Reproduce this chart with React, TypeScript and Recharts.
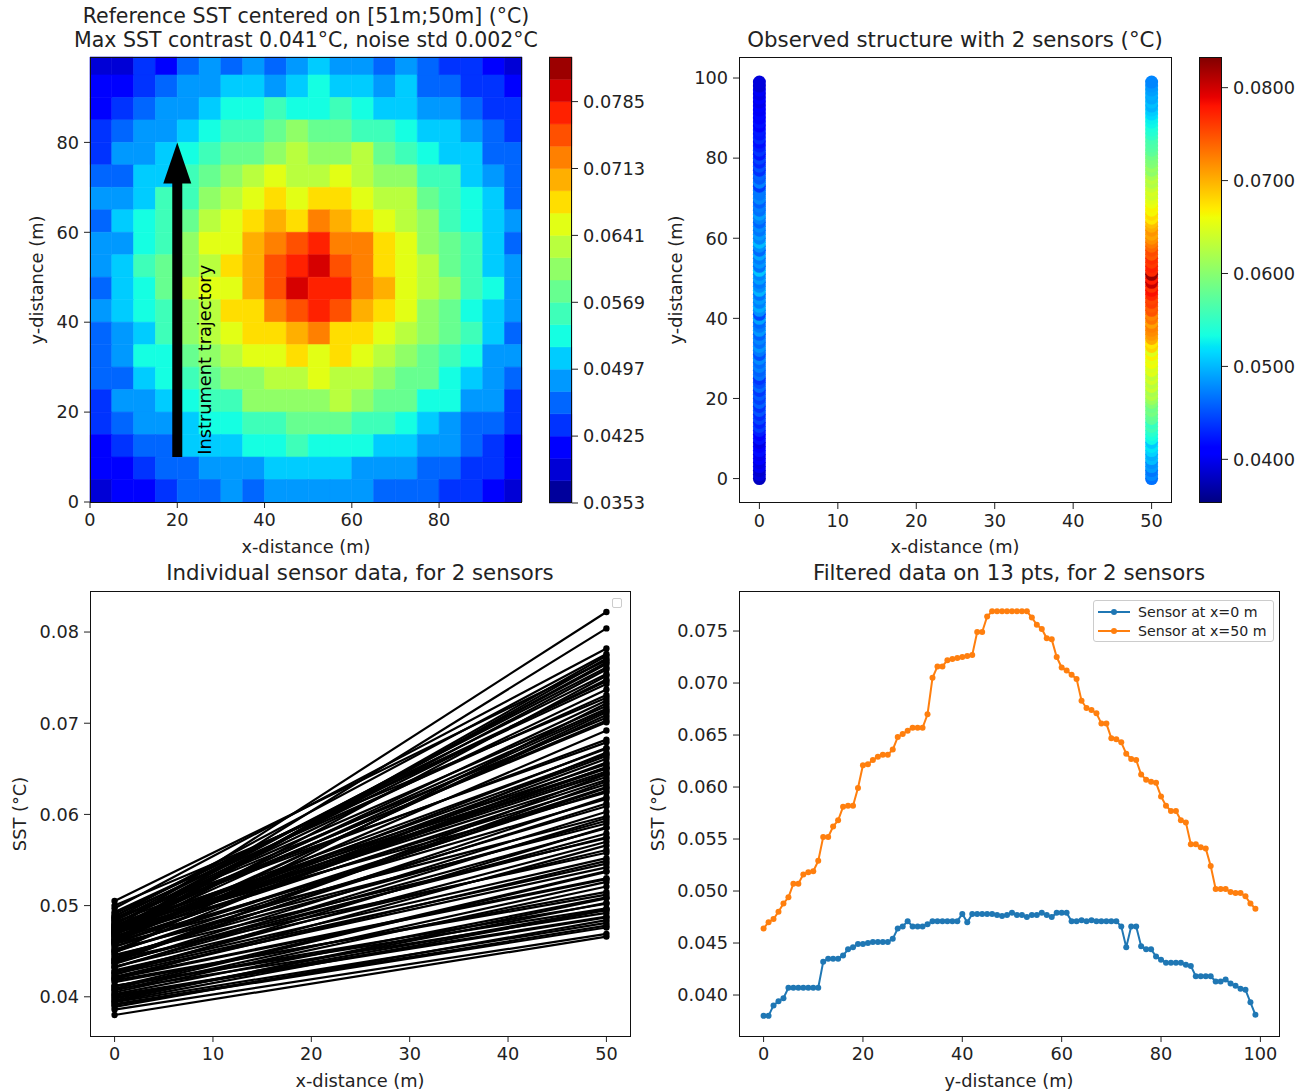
import React from "react";
import {
  ScatterChart,
  Scatter,
  LineChart,
  Line,
  XAxis,
  YAxis,
  ReferenceArea,
  ReferenceLine,
  ReferenceDot,
  Legend,
} from "recharts";

const FONT = "DejaVu Sans, Verdana, sans-serif";

// sample positions along each sensor track (m)
const sensorY = [
  0, 1, 2, 3, 4, 5, 6, 7, 8, 9, 10, 11, 12, 13, 14, 15, 16, 17, 18, 19,
  20, 21, 22, 23, 24, 25, 26, 27, 28, 29, 30, 31, 32, 33, 34, 35, 36, 37, 38, 39,
  40, 41, 42, 43, 44, 45, 46, 47, 48, 49, 50, 51, 52, 53, 54, 55, 56, 57, 58, 59,
  60, 61, 62, 63, 64, 65, 66, 67, 68, 69, 70, 71, 72, 73, 74, 75, 76, 77, 78, 79,
  80, 81, 82, 83, 84, 85, 86, 87, 88, 89, 90, 91, 92, 93, 94, 95, 96, 97, 98, 99,
];

// raw SST seen by the sensor at x=0 m and x=50 m (°C)
const rawX0 = [
  0.038, 0.0392, 0.0386, 0.0401, 0.0394, 0.0412, 0.0399, 0.0418, 0.0405, 0.0396,
  0.0421, 0.0409, 0.0427, 0.0441, 0.0429, 0.0446, 0.0433, 0.0452, 0.0437, 0.0458,
  0.0443, 0.0455, 0.044, 0.0462, 0.0449, 0.0438, 0.0466, 0.0459, 0.0473, 0.0463,
  0.0478, 0.0451, 0.047, 0.0482, 0.0465, 0.0476, 0.0459, 0.0484, 0.0471, 0.0462,
  0.0489, 0.0448, 0.048, 0.0493, 0.0474, 0.0486, 0.0467, 0.0497, 0.0479, 0.047,
  0.0488, 0.0475, 0.0505, 0.0468, 0.0483, 0.0472, 0.0491, 0.0463, 0.048, 0.05,
  0.0476, 0.0485, 0.0469, 0.0478, 0.0461, 0.0474, 0.0487, 0.0466, 0.0472, 0.0458,
  0.0477, 0.0469, 0.047, 0.0441, 0.0473, 0.0455, 0.046, 0.0436, 0.045, 0.0432,
  0.0445, 0.0424, 0.0438, 0.0427, 0.0419, 0.0433, 0.0422, 0.0425, 0.0411, 0.042,
  0.0407, 0.0416, 0.0403, 0.0412, 0.0398, 0.0408, 0.0395, 0.0402, 0.0389, 0.0391,
];
const rawX50 = [
  0.0466, 0.0478, 0.0469, 0.0487, 0.0481, 0.0502, 0.0496, 0.0512, 0.0521, 0.0508,
  0.053, 0.0537, 0.0546, 0.0558, 0.0552, 0.0574, 0.0579, 0.059, 0.0585, 0.0598,
  0.0612, 0.0626, 0.0619, 0.0638, 0.0629, 0.0644, 0.0633, 0.0652, 0.0647, 0.0661,
  0.0655, 0.0668, 0.065, 0.0682, 0.0673, 0.0703, 0.0712, 0.0719, 0.0725, 0.0709,
  0.0731, 0.0722, 0.0748, 0.0743, 0.0759, 0.0754, 0.0771, 0.0782, 0.0765, 0.0804,
  0.0776, 0.0822, 0.0769, 0.0774, 0.0761, 0.0767, 0.0746, 0.0752, 0.0737, 0.0728,
  0.0716, 0.0706, 0.0714, 0.0701, 0.0692, 0.0672, 0.0679, 0.0664, 0.0666, 0.0657,
  0.0651, 0.0641, 0.0645, 0.0636, 0.0624, 0.063, 0.0617, 0.0603, 0.0609, 0.0596,
  0.0593, 0.0586, 0.0575, 0.057, 0.0566, 0.0561, 0.0549, 0.0542, 0.0538, 0.0529,
  0.0526, 0.0515, 0.0509, 0.0497, 0.0503, 0.0492, 0.0495, 0.0488, 0.0484, 0.0476,
];

// filtered SST (13 pts), same sensors (°C)
const filtX0 = [
  0.038, 0.038, 0.039, 0.0394, 0.0397, 0.0407, 0.0407, 0.0407, 0.0407, 0.0407,
  0.0407, 0.0407, 0.0432, 0.0435, 0.0435, 0.0435, 0.0438, 0.0444, 0.0446, 0.0449,
  0.0449, 0.045, 0.0451, 0.0451, 0.0451, 0.0451, 0.0454, 0.0464, 0.0466, 0.0471,
  0.0466, 0.0466, 0.0466, 0.0468, 0.0471, 0.0471, 0.0471, 0.0471, 0.0471, 0.0471,
  0.0478, 0.047, 0.0478, 0.0478, 0.0478, 0.0478, 0.0478, 0.0477, 0.0476, 0.0477,
  0.0479, 0.0477, 0.0477, 0.0475, 0.0477, 0.0477, 0.0479, 0.0477, 0.0475, 0.0479,
  0.0479, 0.0479, 0.0471, 0.0471, 0.0472, 0.0471, 0.0472, 0.0471, 0.0471, 0.0471,
  0.0471, 0.0471, 0.0466, 0.0446, 0.0466, 0.0466, 0.0447, 0.0444, 0.0444, 0.0437,
  0.0434, 0.0431, 0.0431, 0.0431, 0.0431, 0.0429, 0.0428, 0.0418, 0.0418, 0.0418,
  0.0418, 0.0413, 0.0413, 0.0415, 0.0411, 0.0409, 0.0406, 0.0405, 0.0393, 0.0381,
];
const filtX50 = [
  0.0464, 0.047, 0.0473, 0.048, 0.0488, 0.0494, 0.0507, 0.0507, 0.0516, 0.0518,
  0.0519, 0.0529, 0.0552, 0.0552, 0.0562, 0.0568, 0.0581, 0.0582, 0.0582, 0.0599,
  0.0621, 0.0622, 0.0626, 0.0629, 0.0631, 0.0631, 0.0636, 0.0648, 0.0651, 0.0654,
  0.0657, 0.0657, 0.0657, 0.067, 0.0705, 0.0716, 0.0716, 0.0722, 0.0723, 0.0724,
  0.0725, 0.0726, 0.0727, 0.0749, 0.0749, 0.0764, 0.0769, 0.0769, 0.0769, 0.0769,
  0.0769, 0.0769, 0.0769, 0.0769, 0.0763, 0.0756, 0.0752, 0.0743, 0.0742, 0.0725,
  0.0715, 0.0712, 0.0708, 0.0704, 0.0683, 0.0676, 0.0674, 0.0671, 0.0661, 0.0661,
  0.0647, 0.0646, 0.0643, 0.0632, 0.0627, 0.0626, 0.0612, 0.0607, 0.0605, 0.0604,
  0.0591, 0.0582, 0.0577, 0.0577, 0.0568, 0.0566, 0.0545, 0.0545, 0.0542, 0.0541,
  0.0524, 0.0502, 0.0502, 0.0502, 0.0499, 0.0498, 0.0498, 0.0495, 0.0488, 0.0483,
];

// contour levels of the reference field (°C)
const contourLevels = [
  0.0353, 0.0377, 0.0401, 0.0425, 0.0449, 0.0473, 0.0497, 0.0521, 0.0545, 0.0569,
  0.0593, 0.0617, 0.0641, 0.0665, 0.0689, 0.0713, 0.0737, 0.0761, 0.0785, 0.0809,
  0.0833,
];

// reference field on a 5 m grid: index of the contour band, top row (y 95-99) first
const gridEdges = [0, 5, 10, 15, 20, 25, 30, 35, 40, 45, 50, 55, 60, 65, 70, 75, 80, 85, 90, 95, 99];
const sstLevel = [
  [1, 1, 3, 2, 4, 5, 4, 5, 4, 5, 6, 5, 5, 4, 5, 4, 3, 3, 2, 1],
  [2, 2, 3, 4, 5, 5, 6, 6, 5, 6, 7, 6, 6, 5, 6, 4, 4, 3, 3, 2],
  [2, 3, 4, 5, 5, 6, 7, 7, 8, 7, 7, 8, 7, 6, 6, 5, 5, 4, 3, 3],
  [3, 4, 5, 5, 6, 7, 8, 8, 9, 10, 9, 9, 8, 8, 7, 6, 6, 5, 4, 3],
  [3, 5, 5, 6, 7, 8, 9, 9, 10, 11, 10, 10, 11, 9, 8, 7, 6, 6, 4, 4],
  [4, 4, 6, 6, 8, 9, 10, 11, 12, 11, 11, 12, 11, 10, 10, 8, 8, 6, 5, 4],
  [5, 5, 6, 8, 8, 10, 11, 12, 13, 12, 13, 13, 12, 11, 11, 9, 8, 7, 6, 4],
  [4, 6, 7, 8, 9, 11, 12, 13, 14, 13, 15, 14, 13, 12, 11, 10, 8, 7, 6, 5],
  [5, 5, 7, 8, 10, 12, 12, 14, 15, 16, 17, 15, 15, 13, 12, 10, 9, 8, 6, 4],
  [5, 6, 8, 9, 10, 11, 13, 14, 16, 17, 18, 16, 15, 13, 12, 11, 9, 8, 6, 5],
  [4, 6, 7, 9, 11, 12, 12, 14, 16, 18, 17, 17, 15, 14, 12, 11, 10, 8, 7, 5],
  [5, 6, 7, 8, 10, 11, 13, 13, 15, 16, 17, 16, 14, 13, 12, 10, 9, 7, 6, 5],
  [4, 5, 6, 8, 10, 11, 12, 13, 13, 14, 15, 13, 13, 12, 11, 10, 9, 8, 6, 4],
  [4, 5, 7, 7, 9, 10, 11, 12, 12, 13, 12, 13, 12, 11, 10, 9, 8, 7, 5, 5],
  [4, 4, 6, 7, 8, 9, 10, 10, 11, 11, 12, 11, 11, 10, 9, 9, 7, 6, 5, 4],
  [3, 5, 5, 6, 7, 8, 8, 10, 10, 10, 10, 11, 10, 9, 9, 7, 7, 5, 5, 3],
  [3, 4, 5, 5, 6, 7, 7, 8, 8, 9, 9, 9, 8, 8, 7, 6, 5, 4, 4, 3],
  [2, 3, 4, 4, 6, 6, 6, 7, 7, 8, 7, 7, 7, 6, 6, 5, 5, 4, 3, 2],
  [2, 2, 3, 4, 4, 5, 5, 5, 6, 6, 6, 6, 5, 5, 5, 4, 4, 3, 3, 2],
  [1, 2, 2, 3, 4, 4, 5, 4, 5, 5, 5, 5, 5, 4, 4, 4, 3, 3, 2, 1],
];

const fieldTicks = [0, 20, 40, 60, 80];
const cbTicksField = [0.0353, 0.0425, 0.0497, 0.0569, 0.0641, 0.0713, 0.0785];
const cbTicksObs = [0.04, 0.05, 0.06, 0.07, 0.08];
const obsXTicks = [0, 10, 20, 30, 40, 50];
const obsYTicks = [0, 20, 40, 60, 80, 100];
const pairYTicks = [0.04, 0.05, 0.06, 0.07, 0.08];
const filtXTicks = [0, 20, 40, 60, 80, 100];
const filtYTicks = [0.04, 0.045, 0.05, 0.055, 0.06, 0.065, 0.07, 0.075];

const vMin = 0.0353;
const vMax = 0.0833;

// matplotlib "jet"
const JET_R = [[0, 0], [0.35, 0], [0.66, 1], [0.89, 1], [1, 0.5]];
const JET_G = [[0, 0], [0.125, 0], [0.375, 1], [0.64, 1], [0.91, 0], [1, 0]];
const JET_B = [[0, 0.5], [0.11, 1], [0.34, 1], [0.65, 0], [1, 0]];
function seg(pts: number[][], t: number) {
  for (let i = 1; i < pts.length; i++) {
    if (t <= pts[i][0]) {
      const [x0, y0] = pts[i - 1];
      const [x1, y1] = pts[i];
      return y0 + ((t - x0) / (x1 - x0)) * (y1 - y0);
    }
  }
  return pts[pts.length - 1][1];
}
function jet(t: number) {
  const u = Math.max(0, Math.min(1, t));
  const c = (p: number[][]) => Math.round(seg(p, u) * 255);
  return `rgb(${c(JET_R)},${c(JET_G)},${c(JET_B)})`;
}
const jetStops = [0, 0.11, 0.125, 0.34, 0.35, 0.375, 0.64, 0.65, 0.66, 0.89, 0.91, 1];
const norm = (v: number) => (v - vMin) / (vMax - vMin);
const bandColor = (k: number) => jet((k + 0.5) / (contourLevels.length - 1));

const TICK_FS = 17.7;
const tick = { fontSize: TICK_FS, fill: "#222", fontFamily: FONT };
const axisCommon = { tickSize: 6, tickMargin: 5, axisLine: false, stroke: "#222", tick, interval: 0 as const };

function Txt({ x, y, size = 17.8, rotate = false, children }: any) {
  return (
    <div
      style={{
        position: "absolute",
        left: x,
        top: y,
        transform: `translate(-50%,-50%)${rotate ? " rotate(-90deg)" : ""}`,
        fontFamily: FONT,
        fontSize: size,
        whiteSpace: "nowrap",
        lineHeight: 1,
        color: "#222",
      }}
    >
      {children}
    </div>
  );
}

function Frame({ left, top, width, height }: any) {
  return (
    <div
      style={{
        position: "absolute",
        left,
        top,
        width,
        height,
        boxSizing: "border-box",
        border: "1px solid #111",
        pointerEvents: "none",
      }}
    />
  );
}

function Box({ left, top, children }: any) {
  return <div style={{ position: "absolute", left, top }}>{children}</div>;
}

function FieldPanel() {
  const cells: any[] = [];
  const centres: any[] = [];
  sstLevel.forEach((row, r) =>
    row.forEach((lvl, c) => {
      const x1 = gridEdges[c];
      const x2 = gridEdges[c + 1];
      const y1 = gridEdges[gridEdges.length - 2 - r];
      const y2 = gridEdges[gridEdges.length - 1 - r];
      const col = bandColor(lvl);
      centres.push({ x: (x1 + x2) / 2, y: (y1 + y2) / 2 });
      cells.push(
        <ReferenceArea
          key={`c${r}-${c}`}
          x1={x1}
          x2={x2}
          y1={y1}
          y2={y2}
          fill={col}
          fillOpacity={1}
          stroke={col}
          strokeWidth={0.6}
        />
      );
    })
  );
  return (
    <ScatterChart width={530} height={562} margin={{ top: 57, right: 8, bottom: 0, left: 0 }}>
      <XAxis type="number" dataKey="x" domain={[0, 99]} ticks={fieldTicks} height={60} allowDataOverflow {...axisCommon} />
      <YAxis type="number" dataKey="y" domain={[0, 99]} ticks={fieldTicks} width={90} allowDataOverflow {...axisCommon} />
      {cells}
      <Scatter data={centres} shape={() => <g />} isAnimationActive={false} />
      <ReferenceLine segment={[{ x: 20, y: 10 }, { x: 20, y: 71 }]} stroke="#000" strokeWidth={10} />
      <ReferenceDot
        x={20}
        y={80}
        r={1}
        shape={(p: any) => (
          <path d={`M${p.cx},${p.cy} L${p.cx - 14},${p.cy + 41} L${p.cx + 14},${p.cy + 41} Z`} fill="#000" />
        )}
      />
      <ReferenceDot
        x={27.8}
        y={10.5}
        r={1}
        shape={(p: any) => (
          <text
            x={p.cx}
            y={p.cy}
            transform={`rotate(-90 ${p.cx} ${p.cy})`}
            fontSize={17.8}
            fontFamily={FONT}
            fill="#000"
          >
            Instrument trajectory
          </text>
        )}
      />
    </ScatterChart>
  );
}

function Colorbar({ ticks, banded, gid }: any) {
  const marks = contourLevels.map((v) => ({ x: 0.5, y: v }));
  return (
    <ScatterChart width={123} height={523} margin={{ top: 57, right: 0, bottom: 20, left: 0 }}>
      <defs>
        <linearGradient id={gid} x1="0" y1="1" x2="0" y2="0">
          {jetStops.map((s) => (
            <stop key={s} offset={s} stopColor={jet(s)} />
          ))}
        </linearGradient>
      </defs>
      <XAxis type="number" dataKey="x" domain={[0, 1]} hide height={0} />
      <YAxis
        type="number"
        dataKey="y"
        orientation="right"
        domain={[vMin, vMax]}
        ticks={ticks}
        width={100}
        tickFormatter={(v: number) => v.toFixed(4)}
        allowDataOverflow
        {...axisCommon}
      />
      {banded ? (
        contourLevels.slice(0, -1).map((v, k) => (
          <ReferenceArea
            key={k}
            x1={0}
            x2={1}
            y1={v}
            y2={contourLevels[k + 1]}
            fill={bandColor(k)}
            fillOpacity={1}
            stroke={bandColor(k)}
            strokeWidth={0.5}
          />
        ))
      ) : (
        <ReferenceArea x1={0} x2={1} y1={vMin} y2={vMax} fill={`url(#${gid})`} fillOpacity={1} />
      )}
      <Scatter data={marks} shape={() => <g />} isAnimationActive={false} />
    </ScatterChart>
  );
}

function ObservedPanel() {
  const dot = (p: any) => <circle cx={p.cx} cy={p.cy} r={6.5} fill={jet(norm(p.payload.v))} />;
  const s0 = sensorY.map((y, i) => ({ x: 0, y, v: rawX0[i] }));
  const s50 = sensorY.map((y, i) => ({ x: 50, y, v: rawX50[i] }));
  return (
    <ScatterChart width={521} height={563} margin={{ top: 57, right: 8, bottom: 0, left: 0 }}>
      <XAxis type="number" dataKey="x" domain={[-2.6, 52.6]} ticks={obsXTicks} height={60} allowDataOverflow {...axisCommon} />
      <YAxis type="number" dataKey="y" domain={[-6.1, 105.25]} ticks={obsYTicks} width={80} allowDataOverflow {...axisCommon} />
      <Scatter data={s0} shape={dot} isAnimationActive={false} />
      <Scatter data={s50} shape={dot} isAnimationActive={false} />
    </ScatterChart>
  );
}

function PairsPanel() {
  const rows = [
    { x: 0, ...Object.fromEntries(rawX0.map((v, i) => [`s${i}`, v])) },
    { x: 50, ...Object.fromEntries(rawX50.map((v, i) => [`s${i}`, v])) },
  ];
  return (
    <LineChart width={639} height={562} data={rows} margin={{ top: 57, right: 8, bottom: 0, left: 0 }}>
      <XAxis type="number" dataKey="x" domain={[-2.5, 52.5]} ticks={obsXTicks} height={60} allowDataOverflow {...axisCommon} />
      <YAxis
        type="number"
        domain={[0.0357, 0.0845]}
        ticks={pairYTicks}
        width={90}
        tickFormatter={(v: number) => v.toFixed(2)}
        allowDataOverflow
        {...axisCommon}
      />
      {rawX0.map((_, i) => (
        <Line
          key={i}
          dataKey={`s${i}`}
          stroke="#000"
          strokeWidth={2.2}
          dot={{ r: 3.2, fill: "#000", stroke: "#000", strokeWidth: 0 }}
          activeDot={false}
          isAnimationActive={false}
        />
      ))}
    </LineChart>
  );
}

function FilterLegend(props: any) {
  const items = props.payload || [];
  return (
    <div
      style={{
        width: "max-content",
        border: "1px solid #ccc",
        borderRadius: 3,
        background: "rgba(255,255,255,0.85)",
        padding: "1px 6px 1px 4px",
        fontFamily: FONT,
        fontSize: 14.2,
        color: "#222",
        whiteSpace: "nowrap",
      }}
    >
      {items.map((it: any) => (
        <div key={it.value} style={{ display: "flex", alignItems: "center", height: 19 }}>
          <svg width={32} height={10}>
            <line x1={0} y1={5} x2={32} y2={5} stroke={it.color} strokeWidth={2} />
            <circle cx={16} cy={5} r={3} fill={it.color} />
          </svg>
          <span style={{ marginLeft: 8 }}>{it.value}</span>
        </div>
      ))}
    </div>
  );
}

function FilteredPanel() {
  const rows = sensorY.map((y, i) => ({ y, a: filtX0[i], b: filtX50[i] }));
  return (
    <LineChart width={629} height={562} data={rows} margin={{ top: 57, right: 8, bottom: 0, left: 0 }}>
      <XAxis type="number" dataKey="y" domain={[-4.95, 103.95]} ticks={filtXTicks} height={60} allowDataOverflow {...axisCommon} />
      <YAxis
        type="number"
        domain={[0.03606, 0.07885]}
        ticks={filtYTicks}
        width={80}
        tickFormatter={(v: number) => v.toFixed(3)}
        allowDataOverflow
        {...axisCommon}
      />
      <Line
        dataKey="a"
        name="Sensor at x=0 m"
        stroke="#1f77b4"
        strokeWidth={2}
        dot={{ r: 3, fill: "#1f77b4", stroke: "#1f77b4", strokeWidth: 0 }}
        activeDot={false}
        isAnimationActive={false}
      />
      <Line
        dataKey="b"
        name="Sensor at x=50 m"
        stroke="#ff7f0e"
        strokeWidth={2}
        dot={{ r: 3, fill: "#ff7f0e", stroke: "#ff7f0e", strokeWidth: 0 }}
        activeDot={false}
        isAnimationActive={false}
      />
      <Legend
        layout="vertical"
        align="center"
        verticalAlign="middle"
        content={<FilterLegend />}
        wrapperStyle={{ left: 434, top: 66, width: 190 }}
      />
    </LineChart>
  );
}

export default function App() {
  return (
    <div style={{ position: "absolute", left: 0, top: 0, width: 1298, height: 1091, background: "#fff", overflow: "hidden" }}>
      <Box left={0} top={0}>
        <FieldPanel />
      </Box>
      <Box left={549} top={0}>
        <Colorbar ticks={cbTicksField} banded gid="jetA" />
      </Box>
      <Box left={659} top={0}>
        <ObservedPanel />
      </Box>
      <Box left={1199} top={0}>
        <Colorbar ticks={cbTicksObs} banded={false} gid="jetB" />
      </Box>
      <Box left={0} top={534}>
        <PairsPanel />
      </Box>
      <Box left={659} top={534}>
        <FilteredPanel />
      </Box>

      <Frame left={90} top={57} width={432} height={446} />
      <Frame left={549} top={57} width={23} height={446} />
      <Frame left={739} top={57} width={433} height={446} />
      <Frame left={1199} top={57} width={23} height={446} />
      <Frame left={90} top={591} width={541} height={446} />
      <Frame left={739} top={591} width={541} height={446} />
      <div
        style={{
          position: "absolute",
          left: 612,
          top: 598,
          width: 10,
          height: 10,
          boxSizing: "border-box",
          border: "1px solid #ccc",
          borderRadius: 2,
        }}
      />

      <Txt x={306} y={16} size={20.5}>Reference SST centered on [51m;50m] (°C)</Txt>
      <Txt x={306} y={40} size={20.5}>Max SST contrast 0.041°C, noise std 0.002°C</Txt>
      <Txt x={955} y={40} size={21.3}>Observed structure with 2 sensors (°C)</Txt>
      <Txt x={360} y={573} size={21.3}>Individual sensor data, for 2 sensors</Txt>
      <Txt x={1009} y={573} size={21.3}>Filtered data on 13 pts, for 2 sensors</Txt>

      <Txt x={306} y={547}>x-distance (m)</Txt>
      <Txt x={37} y={280} rotate>y-distance (m)</Txt>
      <Txt x={955} y={547}>x-distance (m)</Txt>
      <Txt x={676} y={280} rotate>y-distance (m)</Txt>
      <Txt x={360} y={1081}>x-distance (m)</Txt>
      <Txt x={20} y={814} rotate>SST (°C)</Txt>
      <Txt x={1009} y={1081}>y-distance (m)</Txt>
      <Txt x={658} y={814} rotate>SST (°C)</Txt>
    </div>
  );
}
